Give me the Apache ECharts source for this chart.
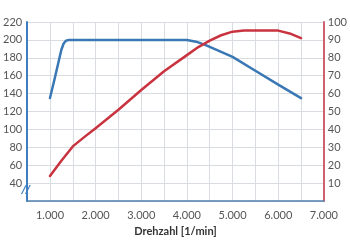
<!DOCTYPE html>
<html><head><meta charset="utf-8">
<script src="https://cdn.jsdelivr.net/npm/echarts@6/dist/echarts.min.js"></script>
<style>html,body{margin:0;padding:0;background:#fff}#c{width:350px;height:250px}</style>
</head><body><div id="c"></div>
<script>
var torqueRpm = [1000, 1100, 1200, 1250, 1300, 1350, 1420, 2000, 3000, 4000, 4200, 4400, 4600, 5000, 5500, 6000, 6500];
var torqueVal = [135, 156, 178, 189, 196, 199, 200, 200, 200, 200, 198, 194.5, 190, 181, 165.5, 150, 135];
var powerRpm = [1000, 1250, 1500, 1750, 2000, 2500, 3000, 3500, 4000, 4250, 4500, 4750, 5000, 5250, 6000, 6250, 6500];
var powerVal = [14, 22.5, 30.5, 35.7, 40.7, 51, 62, 72.5, 81.5, 86, 89.6, 92.6, 94.6, 95.2, 95.2, 93.6, 91];
var xTitle = 'Drehzahl [1/min]';

var chart = echarts.init(document.getElementById('c'), null, {renderer: 'canvas'});
function pair(a, b) { return a.map(function (v, i) { return [v, b[i]]; }); }
var labelFont = {color: '#555', fontSize: 11, fontFamily: 'Lato, "Open Sans", sans-serif'};
chart.setOption({
  animation: false,
  grid: {left: 27, right: 21, top: 22, bottom: 49},
  xAxis: {
    type: 'value', min: 500, max: 7000, interval: 500,
    name: xTitle, nameLocation: 'middle', nameGap: 22,
    nameTextStyle: {color: '#333', fontSize: 11, fontWeight: 'bold', fontFamily: 'Lato, "Open Sans", sans-serif'},
    axisLine: {show: true, lineStyle: {color: '#4f7fae', width: 1.5}},
    axisTick: {show: false},
    axisLabel: Object.assign({}, labelFont, {margin: 9, showMinLabel: true, showMaxLabel: true,
      formatter: function (v) { return (v % 1000 === 0 && v >= 1000) ? (v / 1000) + '.000' : ''; }}),
    splitLine: {show: true, lineStyle: {color: '#d9dde2', width: 1}}
  },
  yAxis: [{
    type: 'value', min: 20, max: 220, interval: 20, position: 'left',
    axisLine: {show: true, lineStyle: {color: '#3f7fbf', width: 2}},
    axisTick: {show: false},
    axisLabel: Object.assign({}, labelFont, {margin: 5, formatter: function (v) { return v === 20 ? '' : String(v); }}),
    splitLine: {show: true, lineStyle: {color: '#d9dde2', width: 1}}
  }, {
    type: 'value', min: 0, max: 100, interval: 10, position: 'right',
    axisLine: {show: true, lineStyle: {color: '#d0606e', width: 2}},
    axisTick: {show: false},
    axisLabel: Object.assign({}, labelFont, {margin: 4, formatter: function (v) { return v === 0 ? '' : String(v); }}),
    splitLine: {show: false}
  }],
  series: [{
    type: 'line', yAxisIndex: 0, data: pair(torqueRpm, torqueVal),
    smooth: false, showSymbol: false,
    lineStyle: {color: '#3a78b5', width: 2.5, join: 'round', cap: 'round'}
  }, {
    type: 'line', yAxisIndex: 1, data: pair(powerRpm, powerVal),
    smooth: false, showSymbol: false,
    lineStyle: {color: '#c9333f', width: 2.5, join: 'round', cap: 'round'}
  }],
  graphic: [{
    type: 'text', left: 22, top: 185,
    style: {text: '//', fill: '#3f7fbf', fontSize: 11, fontStyle: 'italic', fontWeight: 'bold', fontFamily: 'DejaVu Sans'}
  }]
});
</script></body></html>
